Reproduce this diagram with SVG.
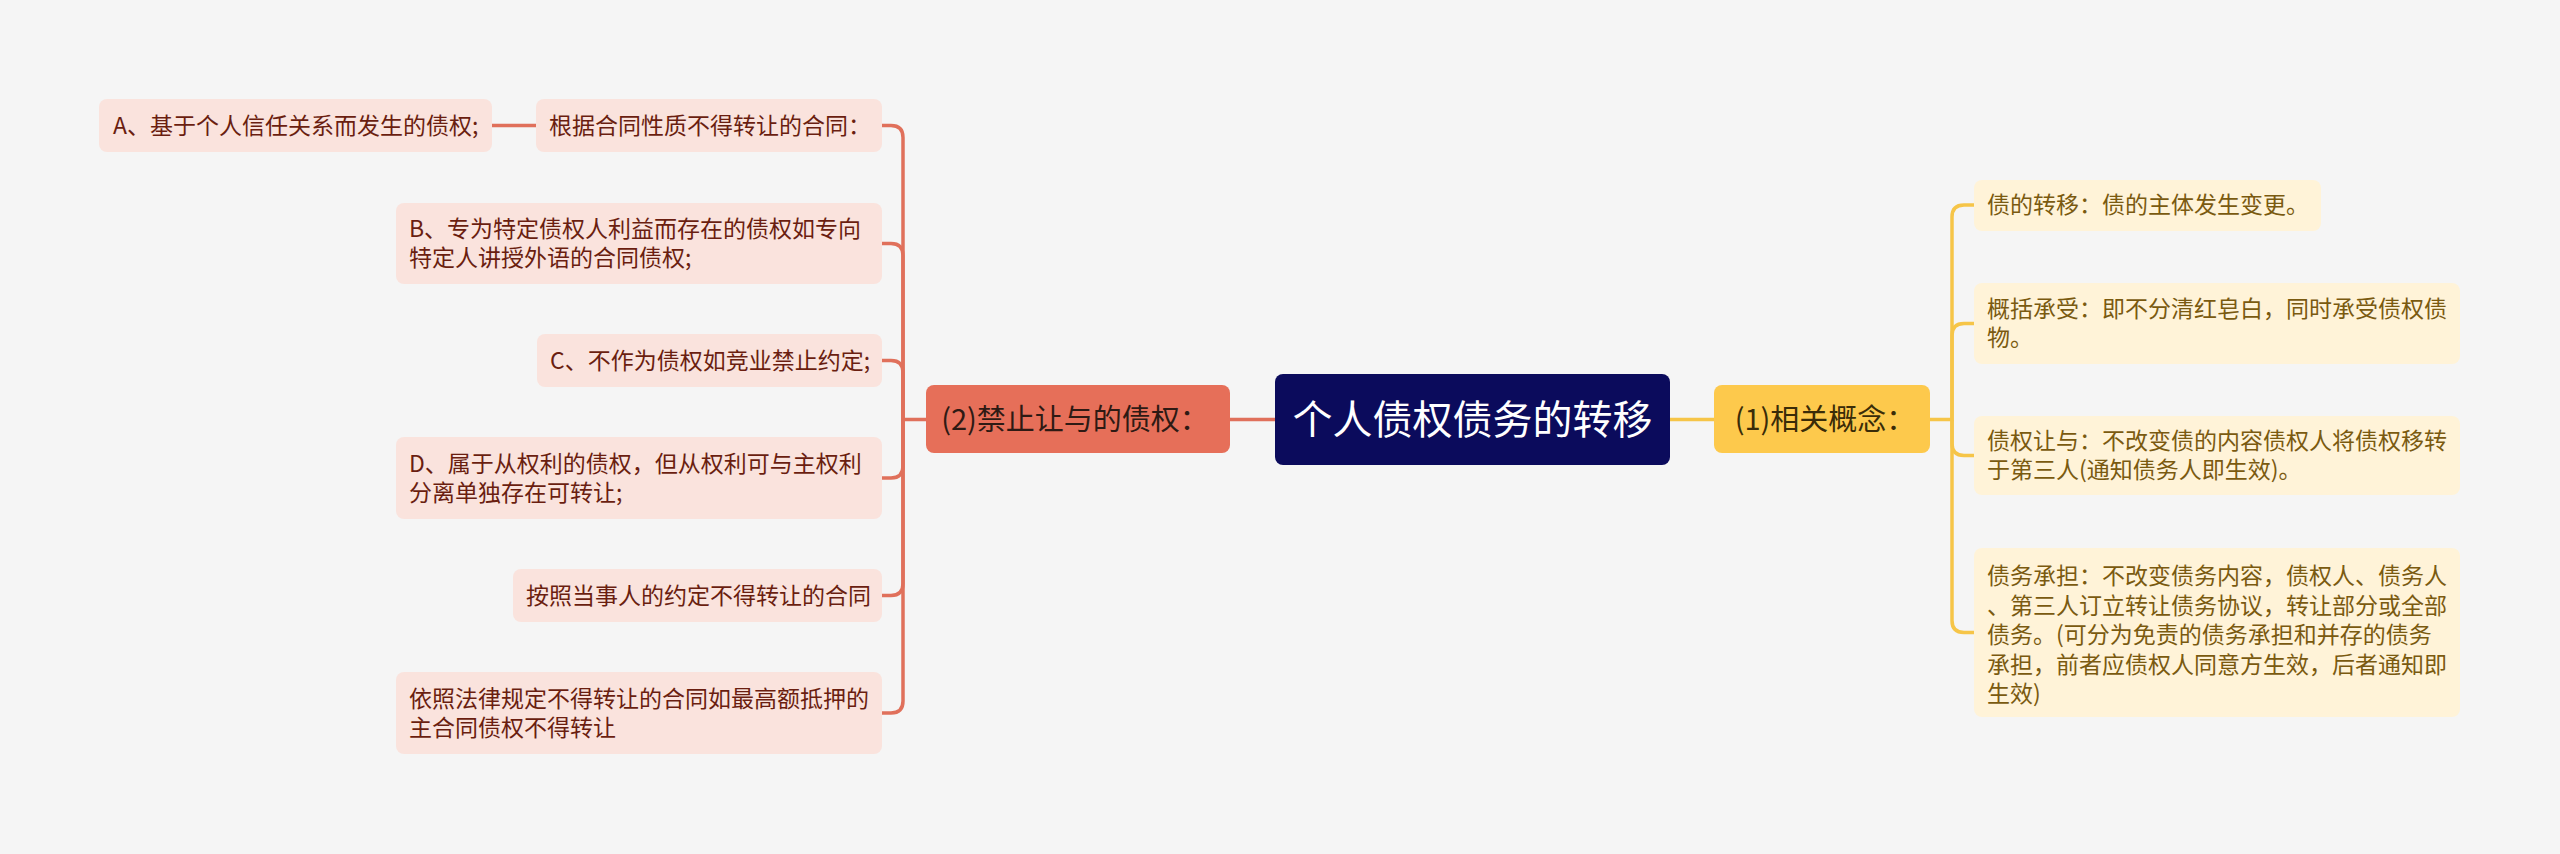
<svg xmlns="http://www.w3.org/2000/svg" width="2560" height="854" viewBox="0 0 2560 854">
<style>
text{font-family:"Noto Sans CJK SC","Microsoft YaHei",sans-serif;}
.lc rect{fill:#fae3dd;}
.lc text{fill:#6a1e10;font-size:23px;}
.rc rect{fill:#fff3d8;}
.rc text{fill:#7a5a10;font-size:23px;}
.cl{fill:none;stroke:#e0705b;stroke-width:3.5;}
.cr{fill:none;stroke:#f6c548;stroke-width:3.5;}
</style>
<rect width="2560" height="854" fill="#f5f5f5"/>
<g id="connectors">
<path class="cl" d="M1275 419.5H1230"/>
<path class="cr" d="M1670 419.5H1714"/>
<path class="cl" d="M492 125.5H536"/>
<path class="cl" d="M926 419.5H903V137.5Q903 125.5 891 125.5H882"/>
<path class="cl" d="M903 419.5V255.5Q903 243.5 891 243.5H882"/>
<path class="cl" d="M903 419.5V372.5Q903 360.5 891 360.5H882"/>
<path class="cl" d="M903 419.5V466Q903 478 891 478H882"/>
<path class="cl" d="M903 419.5V583.5Q903 595.5 891 595.5H882"/>
<path class="cl" d="M903 419.5V701Q903 713 891 713H882"/>
<path class="cr" d="M1930 419.5H1952V217Q1952 205 1964 205H1974"/>
<path class="cr" d="M1952 419.5V335.5Q1952 323.5 1964 323.5H1974"/>
<path class="cr" d="M1952 419.5V443.5Q1952 455.5 1964 455.5H1974"/>
<path class="cr" d="M1952 419.5V620.5Q1952 632.5 1964 632.5H1974"/>
</g>
<g id="root">
<rect x="1275" y="374" width="395" height="91" rx="8" fill="#0b0b5c"/>
<text x="1472.5" y="434" font-size="40" fill="#ffffff" text-anchor="middle">个人债权债务的转移</text>
</g>
<g id="main-left">
<rect x="926" y="385" width="304" height="68" rx="8" fill="#e66f59"/>
<text x="1075" y="429.5" font-size="29" fill="#2e1a14" text-anchor="middle">(2)禁止让与的债权：</text>
</g>
<g id="main-right">
<rect x="1714" y="385" width="216" height="68" rx="8" fill="#fdc94c"/>
<text x="1825" y="429.5" font-size="29" fill="#3a2c08" text-anchor="middle">(1)相关概念：</text>
</g>
<g id="l1" class="lc">
<rect x="536" y="99" width="346" height="53" rx="8"/>
<text x="549" y="133.5">根据合同性质不得转让的合同：</text>
</g>
<g id="l1a" class="lc">
<rect x="99" y="99" width="393" height="53" rx="8"/>
<text x="113" y="133.5">A、基于个人信任关系而发生的债权;</text>
</g>
<g id="l2" class="lc">
<rect x="396" y="203" width="486" height="81" rx="8"/>
<text x="409" y="237">B、专为特定债权人利益而存在的债权如专向</text>
<text x="409" y="266">特定人讲授外语的合同债权;</text>
</g>
<g id="l3" class="lc">
<rect x="537" y="334" width="345" height="53" rx="8"/>
<text x="550" y="368.5">C、不作为债权如竞业禁止约定;</text>
</g>
<g id="l4" class="lc">
<rect x="396" y="437" width="486" height="82" rx="8"/>
<text x="409" y="471.5">D、属于从权利的债权，但从权利可与主权利</text>
<text x="409" y="500.5">分离单独存在可转让;</text>
</g>
<g id="l5" class="lc">
<rect x="513" y="569" width="369" height="53" rx="8"/>
<text x="526" y="603.5">按照当事人的约定不得转让的合同</text>
</g>
<g id="l6" class="lc">
<rect x="396" y="672" width="486" height="82" rx="8"/>
<text x="409" y="706.5">依照法律规定不得转让的合同如最高额抵押的</text>
<text x="409" y="735.5">主合同债权不得转让</text>
</g>
<g id="r1" class="rc">
<rect x="1974" y="180" width="347" height="51" rx="8"/>
<text x="1987" y="213">债的转移：债的主体发生变更。</text>
</g>
<g id="r2" class="rc">
<rect x="1974" y="283" width="486" height="81" rx="8"/>
<text x="1987" y="317">概括承受：即不分清红皂白，同时承受债权债</text>
<text x="1987" y="346">物。</text>
</g>
<g id="r3" class="rc">
<rect x="1974" y="416" width="486" height="79" rx="8"/>
<text x="1987" y="449">债权让与：不改变债的内容债权人将债权移转</text>
<text x="1987" y="478">于第三人(通知债务人即生效)。</text>
</g>
<g id="r4" class="rc">
<rect x="1974" y="548" width="486" height="169" rx="8"/>
<text x="1987" y="584">债务承担：不改变债务内容，债权人、债务人</text>
<text x="1987" y="613.5">、第三人订立转让债务协议，转让部分或全部</text>
<text x="1987" y="643">债务。(可分为免责的债务承担和并存的债务</text>
<text x="1987" y="672.5">承担，前者应债权人同意方生效，后者通知即</text>
<text x="1987" y="702">生效)</text>
</g>
</svg>
